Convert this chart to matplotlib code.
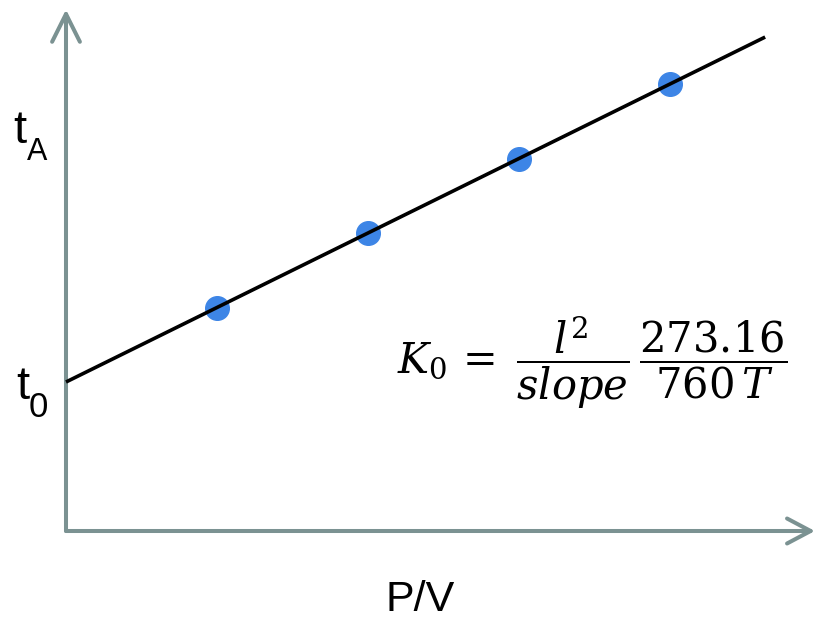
import matplotlib
matplotlib.use("Agg")
import matplotlib.pyplot as plt
import numpy as np

# Data (P/V vs t)
pv = [1, 2, 3, 4]
t_vals = [3.0, 4.0, 5.0, 6.0]
intercept = 2.0
slope_val = 1.0
line_x = [0.0, 4.63]

x_label = "P/V"

plt.rcParams["mathtext.fontset"] = "dejavuserif"

fig = plt.figure(figsize=(8.17, 6.21), dpi=100)
ax = fig.add_axes([0, 0, 1, 1])
X0, SX = 66, 151
Y0, SY = 531, 74.5
ax.set_xlim(-X0 / SX, (817 - X0) / SX)
ax.set_ylim(-(621 - Y0) / SY, Y0 / SY)
ax.axis("off")


def px(x, y):
    return (x - X0) / SX, (Y0 - y) / SY


gray = "#7b9292"
blue = "#3d85e6"

# axes with open arrowheads
ax.annotate("", xy=(0, 7.0), xytext=(0, 0),
            arrowprops=dict(arrowstyle="->,head_length=1.0,head_width=0.5",
                            color=gray, lw=2.9, mutation_scale=20,
                            shrinkA=0, shrinkB=0))
ax.annotate("", xy=(4.96, 0), xytext=(0, 0),
            arrowprops=dict(arrowstyle="->,head_length=0.85,head_width=0.45",
                            color=gray, lw=2.9, mutation_scale=20,
                            shrinkA=0, shrinkB=0))

ax.plot(pv, t_vals, "o", color=blue, markersize=17, zorder=3)
lx = np.array(line_x)
ax.plot(lx, intercept + slope_val * lx, color="black", lw=2.6, zorder=4,
        solid_capstyle="butt")

fam = ["Liberation Sans", "DejaVu Sans"]
# t_A label
ax.text(*px(13, 143), "t", fontsize=34, family=fam, ha="left", va="baseline")
ax.text(*px(27, 160), "A", fontsize=22, family=fam, ha="left", va="baseline")
# t_0 label
ax.text(*px(16, 399), "t", fontsize=34, family=fam, ha="left", va="baseline")
ax.text(*px(29, 417), "0", fontsize=25, family=fam, ha="left", va="baseline")

# x label
ax.text(*px(420, 611), x_label, fontsize=31, family=fam,
        ha="center", va="baseline")

# formula
ax.text(*px(592, 363),
        r"$K_0\,=\;\dfrac{l^2}{slope}\,\dfrac{273.16}{760\,T}$",
        fontsize=30, ha="center", va="center")

fig.savefig("out.png", dpi=100)
